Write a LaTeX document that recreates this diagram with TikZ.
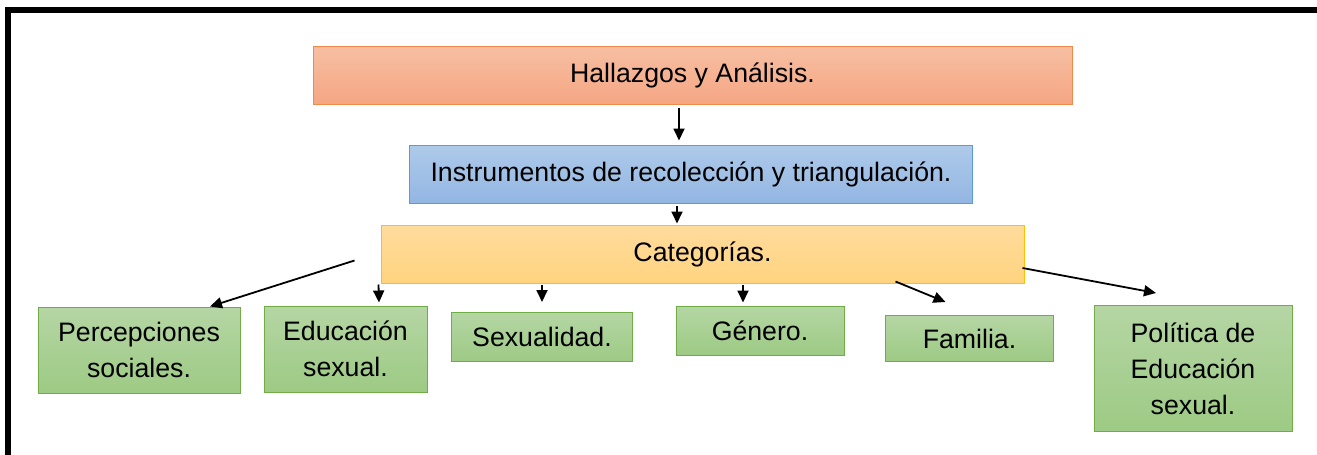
\documentclass[tikz,border=0pt]{standalone}
\usepackage{fontspec}
\setmainfont{Liberation Sans}
\usepackage{tikz}
\usetikzlibrary{arrows.meta}

\definecolor{orangetop}{HTML}{F7BFA3}
\definecolor{orangebot}{HTML}{F5A683}
\definecolor{orangeline}{HTML}{F0894A}
\definecolor{bluetop}{HTML}{AECAEA}
\definecolor{bluebot}{HTML}{93B6E2}
\definecolor{blueline}{HTML}{5B9BD5}
\definecolor{yellowtop}{HTML}{FFDB9D}
\definecolor{yellowbot}{HTML}{FFD47F}
\definecolor{yellowline}{HTML}{FFC000}
\definecolor{greentop}{HTML}{B5D6A4}
\definecolor{greenbot}{HTML}{9DCA84}
\definecolor{greenline}{HTML}{70AD47}

\tikzset{
  box/.style={draw, rectangle, line width=1pt, inner sep=0pt, align=center,
    font=\fontsize{26.7}{36}\selectfont},
  orangebox/.style={box, draw=orangeline, top color=orangetop, bottom color=orangebot},
  bluebox/.style={box, draw=blueline, top color=bluetop, bottom color=bluebot},
  yellowbox/.style={box, draw=yellowline, top color=yellowtop, bottom color=yellowbot},
  greenbox/.style={box, draw=greenline, top color=greentop, bottom color=greenbot},
  arrow/.style={-{Triangle[length=12pt,width=11pt]}, line width=1.8pt}
}

\begin{document}
\begin{tikzpicture}[x=1pt,y=-1pt]
\useasboundingbox (0,0) rectangle (1317,455);
% frame
\fill (5,7) rectangle (1317,13);
\fill (5,7) rectangle (11,455);
% top levels
\node [orangebox, minimum width=759pt, minimum height=58pt] (hal) at (692.5,75) {Hallazgos y Análisis.};
\node [bluebox, minimum width=563pt, minimum height=58pt] (ins) at (691,174) {Instrumentos de recolección y triangulación.};
\node [yellowbox, minimum width=643pt, minimum height=58pt] (cat) at (702.5,254) {Categorías.};
% categories
\node [greenbox, minimum width=202pt, minimum height=86pt] (perc) at (139,350) {Percepciones\\sociales.};
\node [greenbox, minimum width=163pt, minimum height=86pt] (edu) at (345.5,349) {Educación\\sexual.};
\node [greenbox, minimum width=181pt, minimum height=49pt] (sex) at (542,337) {Sexualidad.};
\node [greenbox, minimum width=168pt, minimum height=49pt] (gen) at (760,330.5) {Género.};
\node [greenbox, minimum width=168pt, minimum height=46pt] (fam) at (969.5,338.5) {Familia.};
\node [greenbox, minimum width=198pt, minimum height=126pt] (pol) at (1193,368.5) {Política de\\Educación\\sexual.};
% arrows
\draw [arrow] ([xshift=-13.5pt,yshift=-3pt]hal.south) -- ([xshift=-12pt,yshift=4pt]ins.north);
\draw [arrow] ([xshift=-14pt,yshift=-2pt]ins.south) -- ([xshift=-25.5pt,yshift=1pt]cat.north);
\draw [arrow] ([xshift=-26pt,yshift=-6.5pt]cat.west) -- ([xshift=71pt]perc.north);
\draw [arrow] ([xshift=-2pt,yshift=-1pt]cat.south west) -- ([xshift=33.5pt,yshift=3pt]edu.north);
\draw [arrow] ([xshift=-160.5pt,yshift=-1pt]cat.south) -- ([yshift=10pt]sex.north);
\draw [arrow] ([xshift=40.5pt,yshift=-1pt]cat.south) -- ([xshift=-17pt,yshift=3pt]gen.north);
\draw [arrow] ([xshift=193pt,yshift=2pt]cat.south) -- ([xshift=-24pt,yshift=13pt]fam.north);
\draw [arrow] ([xshift=-2pt,yshift=-14pt]cat.east) -- ([xshift=-37pt,yshift=12pt]pol.north);
\end{tikzpicture}
\end{document}
